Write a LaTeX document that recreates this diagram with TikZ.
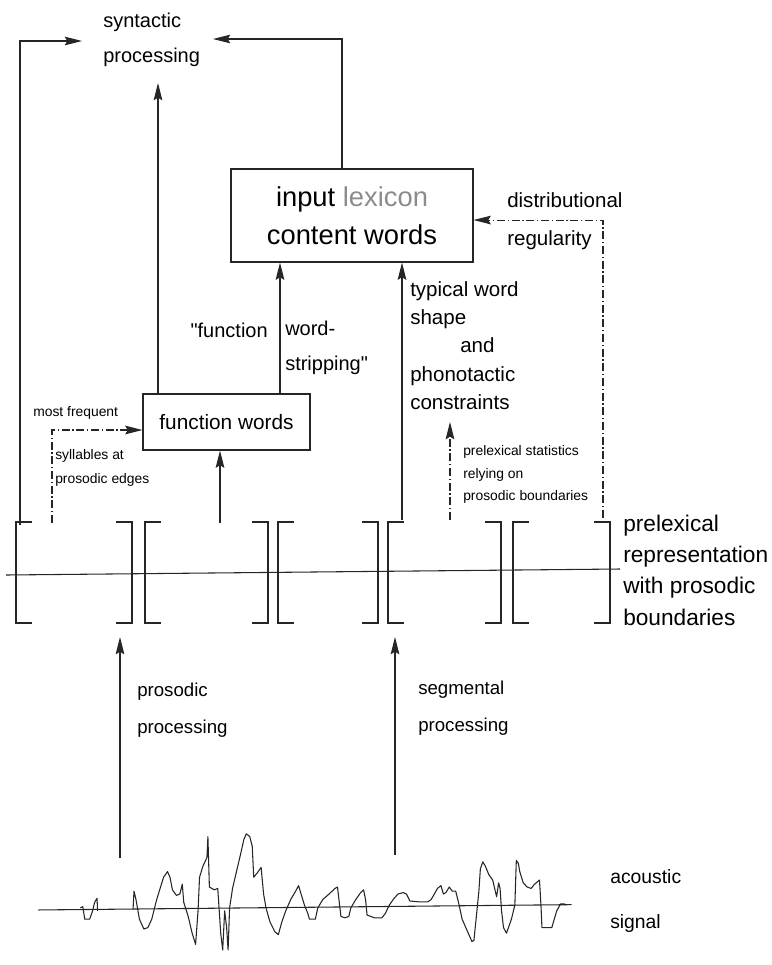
\documentclass[tikz,border=0pt]{standalone}
\usepackage{fontspec}
\setmainfont{Liberation Sans}
\newfontfamily\qf{Liberation Sans}
\usetikzlibrary{arrows.meta}
\begin{document}
\begin{tikzpicture}[x=0.75pt,y=-0.75pt,
  ln/.style={line width=0.8pt, black!85},
  tipstyle/.style={-{Stealth[length=13pt,width=6.5pt,inset=2pt]}},
  arr/.style={ln, tipstyle},
  dd/.style={ln, dash pattern=on 6pt off 2pt on 1pt off 2pt},
  darr/.style={dd, tipstyle},
  lbl/.style={inner sep=0pt, align=left, font=\fontsize{15}{21}\selectfont},
  small/.style={inner sep=0pt, align=left, font=\fontsize{10.4}{17}\selectfont},
  box/.style={draw, line width=0.8pt, black!85, text=black, inner sep=0pt},
  brk/.style={line width=0.8pt, black!85}
]
\useasboundingbox (0,0) rectangle (772,965);

% boxes
\node[box, minimum width=181.5pt, minimum height=69.75pt,
      font=\fontsize{20.5}{28.5}\selectfont, align=center] (lex) at (352,215.5)
      {input {\color{black!45}lexicon}\\content words};
\node[box, minimum width=125.25pt, minimum height=42pt,
      font=\fontsize{15.6}{20}\selectfont] (fw) at (226.5,422) {function words};

% labels
\node[lbl, anchor=west, font=\fontsize{15}{26}\selectfont] (syn) at (103,40) {syntactic\\processing};
\node[lbl, anchor=east] (fn) at (268,330) {{\qf"}function};
\node[lbl, anchor=west, font=\fontsize{15}{26.25}\selectfont] (wstr) at (285,347.5) {word-\\stripping{\qf"}};
\node[lbl, anchor=west, font=\fontsize{15.4}{21.2}\selectfont] (tw) at (410,345.5)
      {typical word\\shape\\\hspace*{37.5pt}and\\phonotactic\\constraints};
\node[lbl, anchor=west, font=\fontsize{15.4}{28.5}\selectfont] (dist) at (507,221) {distributional\\regularity};
\node[small, anchor=west] (mfq) at (33,413) {most frequent};
\node[small, anchor=west, font=\fontsize{10.4}{18}\selectfont] (syl) at (55,468) {syllables at\\prosodic edges};
\node[small, anchor=west, font=\fontsize{10.4}{17}\selectfont] (pls) at (463,474.5)
      {prelexical statistics\\relying on\\prosodic boundaries};
\node[lbl, anchor=west, font=\fontsize{17}{23.5}\selectfont] (prl) at (623,570)
      {prelexical\\representation\\with prosodic\\boundaries};
\node[lbl, anchor=west, font=\fontsize{14}{27.75}\selectfont] (prs) at (137,710.5) {prosodic\\processing};
\node[lbl, anchor=west, font=\fontsize{14}{27.75}\selectfont] (seg) at (418,708) {segmental\\processing};
\node[lbl, anchor=west, font=\fontsize{14.5}{33.75}\selectfont] (ac) at (610,900.5) {acoustic\\signal};

% connector end points
\coordinate (synL) at (82,41);
\coordinate (synR) at (213,39);
\coordinate (synB) at (158,83);
\coordinate (lexT) at (342,169);
\coordinate (b1) at (20,525);
\coordinate (fwT) at (280,394);
\coordinate (p2) at (220,523);
\coordinate (p4) at (402,520);
\coordinate (dr) at (603,518);
\coordinate (mf) at (52,523);
\coordinate (ps) at (450,520);
\coordinate (pst) at (450,422);
\coordinate (pr0) at (120,858);
\coordinate (pr1) at (120,637);
\coordinate (sg0) at (395,855);
\coordinate (sg1) at (395,637);

% solid arrows
\draw[arr] (lexT) |- (synR);
\draw[arr] (b1) |- (synL);
\draw[arr] (fw.north -| synB) -- (synB);
\draw[arr] (fwT) -- (fwT |- lex.south);
\draw[arr] (p2) -- (p2 |- fw.south);
\draw[arr] (p4) -- (p4 |- lex.south);
\draw[arr] (pr0) -- (pr1);
\draw[arr] (sg0) -- (sg1);

% dash-dot arrows
\draw[darr] (dr) |- ([yshift=-3.4pt]lex.east);
\draw[darr] (mf) |- ([yshift=-6pt]fw.west);
\draw[darr] (ps) -- (pst);

% brackets
\foreach \x in {16,145,278,388,513}
  \draw[brk] (\x+16,522) -- (\x,522) -- (\x,623) -- (\x+16,623);
\foreach \x in {132,268,378,501,610}
  \draw[brk] (\x-16,522) -- (\x,522) -- (\x,623) -- (\x-16,623);
\draw[ln] (6,575) -- (620,569);

% acoustic waveform
\begin{scope}[yshift=-590.7pt, x=0.3695pt, y=-0.21pt]
\draw[ln] (78,437) -- (1160,418);
\draw[ln, line join=round] (163,430) -- (168,425) -- (172,470) -- (182,470) -- (188,440) -- (192,410) -- (197,395) -- (198,440);
\draw[ln, line join=round] (270,435) -- (272,370) -- (276,400) -- (283,470) -- (292,505) -- (300,500) -- (308,470) -- (318,400) -- (325,360) -- (332,320) -- (340,300) -- (345,320) -- (350,365) -- (358,385) -- (365,380) -- (370,345) -- (373,410) -- (382,460) -- (390,520) -- (397,560) -- (402,440) -- (405,320) -- (412,280) -- (420,250) -- (422,175) -- (425,355) -- (435,365) -- (442,360) -- (445,440) -- (448,520) -- (452,580) -- (456,440) -- (460,500) -- (463,580) -- (466,430) -- (472,360) -- (480,300) -- (488,240) -- (495,185) -- (500,165) -- (507,175) -- (512,210) -- (515,320) -- (522,305) -- (528,290) -- (530,285) -- (535,380) -- (540,430) -- (548,480) -- (558,515) -- (565,525) -- (572,480) -- (580,440) -- (590,400) -- (600,370) -- (606,350) -- (612,385) -- (618,420) -- (625,450) -- (628,470) -- (640,470) -- (645,430) -- (655,400) -- (668,380) -- (680,360) -- (685,355) -- (688,400) -- (692,460) -- (700,465) -- (708,460) -- (712,430) -- (722,400) -- (732,375) -- (738,365) -- (742,400) -- (745,455) -- (760,465) -- (775,465) -- (782,450) -- (790,420) -- (800,395) -- (808,380) -- (818,375) -- (825,380) -- (832,405) -- (850,408) -- (868,408) -- (875,400) -- (880,385) -- (888,360) -- (895,350) -- (900,380) -- (905,375) -- (912,355) -- (918,370) -- (925,370) -- (932,420) -- (938,470) -- (948,510) -- (958,550) -- (962,545) -- (968,440) -- (972,370) -- (975,290) -- (980,265) -- (985,280) -- (992,310) -- (1000,330) -- (1008,390) -- (1012,340) -- (1015,360) -- (1018,440) -- (1022,500) -- (1028,520) -- (1038,470) -- (1045,420) -- (1048,260) -- (1052,270) -- (1055,300) -- (1062,340) -- (1070,355) -- (1078,360) -- (1085,345) -- (1095,330) -- (1098,420) -- (1100,500) -- (1110,500) -- (1120,500) -- (1125,470) -- (1130,440) -- (1138,415) -- (1145,415) -- (1150,420);
\end{scope}
\end{tikzpicture}
\end{document}
